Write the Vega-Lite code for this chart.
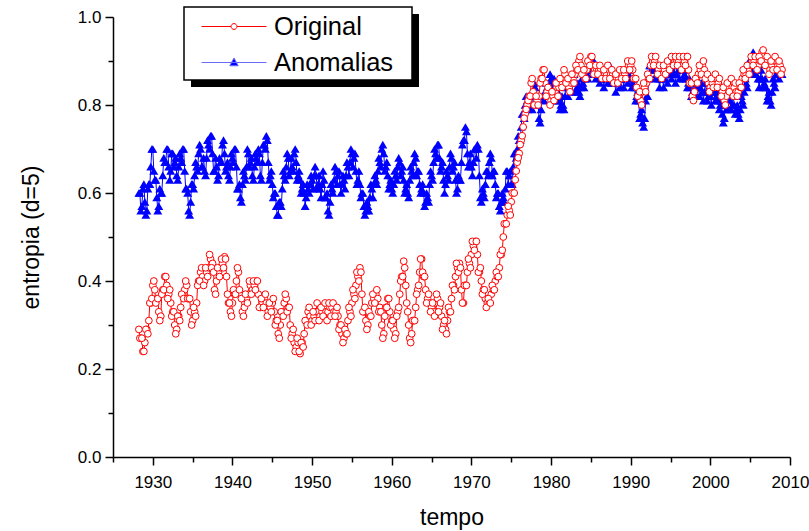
{
  "$schema": "https://vega.github.io/schema/vega-lite/v6.json",
  "width": 677,
  "height": 440,
  "autosize": "none",
  "padding": {"left": 113, "top": 17, "right": 19, "bottom": 74},
  "background": "white",
  "config": {
    "view": {"stroke": null},
    "font": "Liberation Sans",
    "axis": {
      "grid": false,
      "domainColor": "black",
      "domainWidth": 1.5,
      "tickColor": "black",
      "tickWidth": 1.5,
      "labelColor": "black",
      "labelFont": "Liberation Sans",
      "labelFontSize": 17,
      "titleColor": "black",
      "titleFont": "Liberation Sans",
      "titleFontSize": 23,
      "titleFontWeight": "normal",
      "labelFlush": false,
      "labelOverlap": false
    }
  },
  "data": {
    "values": [
      {"t":1928.25,"o":0.29,"a":0.60},{"t":1928.5,"o":0.27,"a":0.56},{"t":1928.75,"o":0.24,"a":0.61},{"t":1929,"o":0.26,"a":0.58},
      {"t":1929.25,"o":0.29,"a":0.56},{"t":1929.5,"o":0.31,"a":0.62},{"t":1929.75,"o":0.35,"a":0.66},{"t":1930,"o":0.39,"a":0.70},
      {"t":1930.25,"o":0.38,"a":0.63},{"t":1930.5,"o":0.36,"a":0.59},{"t":1930.75,"o":0.33,"a":0.57},{"t":1931,"o":0.32,"a":0.60},
      {"t":1931.25,"o":0.38,"a":0.64},{"t":1931.5,"o":0.41,"a":0.67},{"t":1931.75,"o":0.39,"a":0.70},{"t":1932,"o":0.37,"a":0.66},
      {"t":1932.25,"o":0.35,"a":0.65},{"t":1932.5,"o":0.33,"a":0.69},{"t":1932.75,"o":0.30,"a":0.67},{"t":1933,"o":0.29,"a":0.64},
      {"t":1933.25,"o":0.32,"a":0.66},{"t":1933.5,"o":0.34,"a":0.68},{"t":1933.75,"o":0.37,"a":0.70},{"t":1934,"o":0.38,"a":0.65},
      {"t":1934.25,"o":0.39,"a":0.61},{"t":1934.5,"o":0.36,"a":0.56},{"t":1934.75,"o":0.33,"a":0.58},{"t":1935,"o":0.31,"a":0.62},
      {"t":1935.25,"o":0.33,"a":0.64},{"t":1935.5,"o":0.35,"a":0.66},{"t":1935.75,"o":0.40,"a":0.69},{"t":1936,"o":0.42,"a":0.70},
      {"t":1936.25,"o":0.41,"a":0.66},{"t":1936.5,"o":0.40,"a":0.65},{"t":1936.75,"o":0.42,"a":0.68},{"t":1937,"o":0.43,"a":0.71},
      {"t":1937.25,"o":0.45,"a":0.73},{"t":1937.5,"o":0.44,"a":0.69},{"t":1937.75,"o":0.38,"a":0.65},{"t":1938,"o":0.40,"a":0.66},
      {"t":1938.25,"o":0.42,"a":0.64},{"t":1938.5,"o":0.43,"a":0.67},{"t":1938.75,"o":0.44,"a":0.71},{"t":1939,"o":0.455,"a":0.69},
      {"t":1939.25,"o":0.41,"a":0.66},{"t":1939.5,"o":0.35,"a":0.64},{"t":1939.75,"o":0.33,"a":0.66},{"t":1940,"o":0.35,"a":0.68},
      {"t":1940.25,"o":0.37,"a":0.70},{"t":1940.5,"o":0.40,"a":0.66},{"t":1940.75,"o":0.42,"a":0.61},{"t":1941,"o":0.37,"a":0.59},
      {"t":1941.25,"o":0.33,"a":0.62},{"t":1941.5,"o":0.34,"a":0.64},{"t":1941.75,"o":0.36,"a":0.66},{"t":1942,"o":0.37,"a":0.69},
      {"t":1942.25,"o":0.39,"a":0.67},{"t":1942.5,"o":0.38,"a":0.64},{"t":1942.75,"o":0.39,"a":0.66},{"t":1943,"o":0.40,"a":0.68},
      {"t":1943.25,"o":0.37,"a":0.70},{"t":1943.5,"o":0.34,"a":0.64},{"t":1943.75,"o":0.35,"a":0.67},{"t":1944,"o":0.36,"a":0.71},
      {"t":1944.25,"o":0.35,"a":0.73},{"t":1944.5,"o":0.33,"a":0.67},{"t":1944.75,"o":0.34,"a":0.64},{"t":1945,"o":0.35,"a":0.62},
      {"t":1945.25,"o":0.33,"a":0.60},{"t":1945.5,"o":0.31,"a":0.57},{"t":1945.75,"o":0.28,"a":0.55},{"t":1946,"o":0.30,"a":0.58},
      {"t":1946.25,"o":0.33,"a":0.61},{"t":1946.5,"o":0.35,"a":0.64},{"t":1946.75,"o":0.36,"a":0.66},{"t":1947,"o":0.34,"a":0.68},
      {"t":1947.25,"o":0.30,"a":0.65},{"t":1947.5,"o":0.28,"a":0.66},{"t":1947.75,"o":0.26,"a":0.69},{"t":1948,"o":0.25,"a":0.67},
      {"t":1948.25,"o":0.26,"a":0.64},{"t":1948.5,"o":0.235,"a":0.63},{"t":1948.75,"o":0.26,"a":0.61},{"t":1949,"o":0.28,"a":0.60},
      {"t":1949.25,"o":0.31,"a":0.59},{"t":1949.5,"o":0.33,"a":0.61},{"t":1949.75,"o":0.32,"a":0.62},{"t":1950,"o":0.31,"a":0.63},
      {"t":1950.25,"o":0.32,"a":0.64},{"t":1950.5,"o":0.33,"a":0.64},{"t":1950.75,"o":0.33,"a":0.62},{"t":1951,"o":0.32,"a":0.61},
      {"t":1951.25,"o":0.33,"a":0.62},{"t":1951.5,"o":0.34,"a":0.63},{"t":1951.75,"o":0.33,"a":0.59},{"t":1952,"o":0.33,"a":0.56},
      {"t":1952.25,"o":0.34,"a":0.58},{"t":1952.5,"o":0.34,"a":0.61},{"t":1952.75,"o":0.33,"a":0.63},{"t":1953,"o":0.33,"a":0.65},
      {"t":1953.25,"o":0.32,"a":0.64},{"t":1953.5,"o":0.30,"a":0.62},{"t":1953.75,"o":0.28,"a":0.62},{"t":1954,"o":0.27,"a":0.63},
      {"t":1954.25,"o":0.28,"a":0.64},{"t":1954.5,"o":0.31,"a":0.66},{"t":1954.75,"o":0.33,"a":0.67},{"t":1955,"o":0.35,"a":0.69},
      {"t":1955.25,"o":0.37,"a":0.68},{"t":1955.5,"o":0.39,"a":0.65},{"t":1955.75,"o":0.41,"a":0.63},{"t":1956,"o":0.43,"a":0.62},
      {"t":1956.25,"o":0.37,"a":0.60},{"t":1956.5,"o":0.33,"a":0.57},{"t":1956.75,"o":0.31,"a":0.56},{"t":1957,"o":0.30,"a":0.57},
      {"t":1957.25,"o":0.32,"a":0.59},{"t":1957.5,"o":0.35,"a":0.61},{"t":1957.75,"o":0.36,"a":0.62},{"t":1958,"o":0.37,"a":0.63},
      {"t":1958.25,"o":0.36,"a":0.65},{"t":1958.5,"o":0.34,"a":0.67},{"t":1958.75,"o":0.30,"a":0.70},{"t":1959,"o":0.28,"a":0.69},
      {"t":1959.25,"o":0.34,"a":0.66},{"t":1959.5,"o":0.36,"a":0.64},{"t":1959.75,"o":0.33,"a":0.62},{"t":1960,"o":0.31,"a":0.61},
      {"t":1960.25,"o":0.29,"a":0.62},{"t":1960.5,"o":0.28,"a":0.64},{"t":1960.75,"o":0.33,"a":0.66},{"t":1961,"o":0.37,"a":0.67},
      {"t":1961.25,"o":0.41,"a":0.65},{"t":1961.5,"o":0.445,"a":0.63},{"t":1961.75,"o":0.39,"a":0.61},{"t":1962,"o":0.33,"a":0.60},
      {"t":1962.25,"o":0.27,"a":0.63},{"t":1962.5,"o":0.28,"a":0.65},{"t":1962.75,"o":0.31,"a":0.67},{"t":1963,"o":0.34,"a":0.68},
      {"t":1963.25,"o":0.38,"a":0.65},{"t":1963.5,"o":0.42,"a":0.62},{"t":1963.75,"o":0.45,"a":0.61},{"t":1964,"o":0.41,"a":0.60},
      {"t":1964.25,"o":0.38,"a":0.58},{"t":1964.5,"o":0.36,"a":0.59},{"t":1964.75,"o":0.35,"a":0.62},{"t":1965,"o":0.34,"a":0.64},
      {"t":1965.25,"o":0.33,"a":0.67},{"t":1965.5,"o":0.35,"a":0.69},{"t":1965.75,"o":0.36,"a":0.71},{"t":1966,"o":0.34,"a":0.68},
      {"t":1966.25,"o":0.32,"a":0.66},{"t":1966.5,"o":0.30,"a":0.63},{"t":1966.75,"o":0.29,"a":0.62},{"t":1967,"o":0.31,"a":0.64},
      {"t":1967.25,"o":0.33,"a":0.66},{"t":1967.5,"o":0.36,"a":0.68},{"t":1967.75,"o":0.39,"a":0.66},{"t":1968,"o":0.41,"a":0.63},
      {"t":1968.25,"o":0.43,"a":0.61},{"t":1968.5,"o":0.44,"a":0.63},{"t":1968.75,"o":0.38,"a":0.67},{"t":1969,"o":0.35,"a":0.72},
      {"t":1969.25,"o":0.39,"a":0.75},{"t":1969.5,"o":0.42,"a":0.69},{"t":1969.75,"o":0.44,"a":0.67},{"t":1970,"o":0.46,"a":0.66},
      {"t":1970.25,"o":0.48,"a":0.67},{"t":1970.5,"o":0.49,"a":0.70},{"t":1970.75,"o":0.46,"a":0.71},{"t":1971,"o":0.42,"a":0.64},
      {"t":1971.25,"o":0.40,"a":0.58},{"t":1971.5,"o":0.38,"a":0.60},{"t":1971.75,"o":0.36,"a":0.62},{"t":1972,"o":0.35,"a":0.65},
      {"t":1972.25,"o":0.35,"a":0.67},{"t":1972.5,"o":0.37,"a":0.68},{"t":1972.75,"o":0.38,"a":0.65},{"t":1973,"o":0.40,"a":0.62},
      {"t":1973.25,"o":0.41,"a":0.60},{"t":1973.5,"o":0.43,"a":0.57},{"t":1973.75,"o":0.46,"a":0.58},{"t":1974,"o":0.50,"a":0.59},
      {"t":1974.25,"o":0.53,"a":0.61},{"t":1974.5,"o":0.55,"a":0.65},{"t":1974.75,"o":0.56,"a":0.64},{"t":1975,"o":0.58,"a":0.62},
      {"t":1975.25,"o":0.60,"a":0.66},{"t":1975.5,"o":0.63,"a":0.69},{"t":1975.75,"o":0.67,"a":0.70},{"t":1976,"o":0.69,"a":0.72},
      {"t":1976.25,"o":0.72,"a":0.75},{"t":1976.5,"o":0.75,"a":0.78},{"t":1976.75,"o":0.78,"a":0.80},{"t":1977,"o":0.80,"a":0.81},
      {"t":1977.25,"o":0.82,"a":0.80},{"t":1977.5,"o":0.85,"a":0.80},{"t":1977.75,"o":0.83,"a":0.82},{"t":1978,"o":0.80,"a":0.84},
      {"t":1978.25,"o":0.81,"a":0.80},{"t":1978.5,"o":0.82,"a":0.77},{"t":1978.75,"o":0.86,"a":0.79},{"t":1979,"o":0.88,"a":0.82},
      {"t":1979.25,"o":0.85,"a":0.83},{"t":1979.5,"o":0.83,"a":0.84},{"t":1979.75,"o":0.82,"a":0.85},{"t":1980,"o":0.81,"a":0.86},
      {"t":1980.25,"o":0.82,"a":0.85},{"t":1980.5,"o":0.83,"a":0.83},{"t":1980.75,"o":0.84,"a":0.82},{"t":1981,"o":0.84,"a":0.81},
      {"t":1981.25,"o":0.85,"a":0.80},{"t":1981.5,"o":0.86,"a":0.80},{"t":1981.75,"o":0.87,"a":0.82},{"t":1982,"o":0.85,"a":0.84},
      {"t":1982.25,"o":0.84,"a":0.84},{"t":1982.5,"o":0.85,"a":0.85},{"t":1982.75,"o":0.86,"a":0.85},{"t":1983,"o":0.87,"a":0.85},
      {"t":1983.25,"o":0.88,"a":0.84},{"t":1983.5,"o":0.90,"a":0.83},{"t":1983.75,"o":0.89,"a":0.84},{"t":1984,"o":0.87,"a":0.85},
      {"t":1984.25,"o":0.86,"a":0.86},{"t":1984.5,"o":0.88,"a":0.87},{"t":1984.75,"o":0.90,"a":0.88},{"t":1985,"o":0.91,"a":0.88},
      {"t":1985.25,"o":0.89,"a":0.89},{"t":1985.5,"o":0.88,"a":0.88},{"t":1985.75,"o":0.88,"a":0.87},{"t":1986,"o":0.88,"a":0.87},
      {"t":1986.25,"o":0.88,"a":0.86},{"t":1986.5,"o":0.87,"a":0.86},{"t":1986.75,"o":0.87,"a":0.86},{"t":1987,"o":0.87,"a":0.87},
      {"t":1987.25,"o":0.88,"a":0.87},{"t":1987.5,"o":0.87,"a":0.87},{"t":1987.75,"o":0.87,"a":0.86},{"t":1988,"o":0.86,"a":0.85},
      {"t":1988.25,"o":0.86,"a":0.85},{"t":1988.5,"o":0.86,"a":0.85},{"t":1988.75,"o":0.87,"a":0.86},{"t":1989,"o":0.87,"a":0.86},
      {"t":1989.25,"o":0.87,"a":0.86},{"t":1989.5,"o":0.88,"a":0.87},{"t":1989.75,"o":0.89,"a":0.87},{"t":1990,"o":0.89,"a":0.86},
      {"t":1990.25,"o":0.88,"a":0.85},{"t":1990.5,"o":0.86,"a":0.84},{"t":1990.75,"o":0.84,"a":0.82},{"t":1991,"o":0.82,"a":0.81},
      {"t":1991.25,"o":0.81,"a":0.78},{"t":1991.5,"o":0.83,"a":0.76},{"t":1991.75,"o":0.84,"a":0.77},{"t":1992,"o":0.85,"a":0.82},
      {"t":1992.25,"o":0.86,"a":0.86},{"t":1992.5,"o":0.89,"a":0.89},{"t":1992.75,"o":0.90,"a":0.90},{"t":1993,"o":0.90,"a":0.88},
      {"t":1993.25,"o":0.89,"a":0.87},{"t":1993.5,"o":0.88,"a":0.86},{"t":1993.75,"o":0.87,"a":0.86},{"t":1994,"o":0.87,"a":0.86},
      {"t":1994.25,"o":0.88,"a":0.86},{"t":1994.5,"o":0.89,"a":0.87},{"t":1994.75,"o":0.89,"a":0.87},{"t":1995,"o":0.90,"a":0.87},
      {"t":1995.25,"o":0.90,"a":0.88},{"t":1995.5,"o":0.90,"a":0.87},{"t":1995.75,"o":0.90,"a":0.87},{"t":1996,"o":0.90,"a":0.88},
      {"t":1996.25,"o":0.89,"a":0.88},{"t":1996.5,"o":0.89,"a":0.88},{"t":1996.75,"o":0.90,"a":0.87},{"t":1997,"o":0.91,"a":0.86},
      {"t":1997.25,"o":0.88,"a":0.85},{"t":1997.5,"o":0.85,"a":0.84},{"t":1997.75,"o":0.82,"a":0.83},{"t":1998,"o":0.83,"a":0.83},
      {"t":1998.25,"o":0.86,"a":0.84},{"t":1998.5,"o":0.87,"a":0.84},{"t":1998.75,"o":0.88,"a":0.84},{"t":1999,"o":0.89,"a":0.83},
      {"t":1999.25,"o":0.88,"a":0.83},{"t":1999.5,"o":0.86,"a":0.83},{"t":1999.75,"o":0.85,"a":0.82},{"t":2000,"o":0.84,"a":0.82},
      {"t":2000.25,"o":0.85,"a":0.83},{"t":2000.5,"o":0.86,"a":0.83},{"t":2000.75,"o":0.86,"a":0.82},{"t":2001,"o":0.85,"a":0.81},
      {"t":2001.25,"o":0.84,"a":0.80},{"t":2001.5,"o":0.83,"a":0.78},{"t":2001.75,"o":0.81,"a":0.77},{"t":2002,"o":0.82,"a":0.79},
      {"t":2002.25,"o":0.84,"a":0.82},{"t":2002.5,"o":0.85,"a":0.81},{"t":2002.75,"o":0.84,"a":0.80},{"t":2003,"o":0.84,"a":0.80},
      {"t":2003.25,"o":0.83,"a":0.79},{"t":2003.5,"o":0.83,"a":0.78},{"t":2003.75,"o":0.84,"a":0.79},{"t":2004,"o":0.86,"a":0.81},
      {"t":2004.25,"o":0.87,"a":0.83},{"t":2004.5,"o":0.87,"a":0.85},{"t":2004.75,"o":0.88,"a":0.87},{"t":2005,"o":0.89,"a":0.89},
      {"t":2005.25,"o":0.90,"a":0.91},{"t":2005.5,"o":0.90,"a":0.90},{"t":2005.75,"o":0.89,"a":0.87},{"t":2006,"o":0.89,"a":0.86},
      {"t":2006.25,"o":0.90,"a":0.86},{"t":2006.5,"o":0.92,"a":0.86},{"t":2006.75,"o":0.91,"a":0.85},{"t":2007,"o":0.90,"a":0.84},
      {"t":2007.25,"o":0.89,"a":0.82},{"t":2007.5,"o":0.88,"a":0.81},{"t":2007.75,"o":0.89,"a":0.83},{"t":2008,"o":0.90,"a":0.85},
      {"t":2008.25,"o":0.90,"a":0.87},{"t":2008.5,"o":0.89,"a":0.88},{"t":2008.75,"o":0.89,"a":0.87},{"t":2009,"o":0.88,"a":0.87},

      {"t":1928.375,"o":0.27,"a":0.60},{"t":1928.625,"o":0.27,"a":0.57},{"t":1928.875,"o":0.24,"a":0.62},{"t":1929.125,"o":0.29,"a":0.55},
      {"t":1929.375,"o":0.28,"a":0.61},{"t":1929.625,"o":0.35,"a":0.62},{"t":1929.875,"o":0.36,"a":0.70},{"t":1930.125,"o":0.40,"a":0.65},
      {"t":1930.375,"o":0.35,"a":0.63},{"t":1930.625,"o":0.36,"a":0.56},{"t":1930.875,"o":0.31,"a":0.61},{"t":1931.125,"o":0.37,"a":0.60},
      {"t":1931.375,"o":0.38,"a":0.68},{"t":1931.625,"o":0.41,"a":0.67},{"t":1931.875,"o":0.36,"a":0.70},{"t":1932.125,"o":0.38,"a":0.63},
      {"t":1932.375,"o":0.32,"a":0.69},{"t":1932.625,"o":0.33,"a":0.66},{"t":1932.875,"o":0.28,"a":0.68},{"t":1933.125,"o":0.32,"a":0.63},
      {"t":1933.375,"o":0.31,"a":0.69},{"t":1933.625,"o":0.37,"a":0.67},{"t":1933.875,"o":0.36,"a":0.70},{"t":1934.125,"o":0.40,"a":0.61},
      {"t":1934.375,"o":0.36,"a":0.60},{"t":1934.625,"o":0.36,"a":0.55},{"t":1934.875,"o":0.30,"a":0.62},{"t":1935.125,"o":0.34,"a":0.61},
      {"t":1935.375,"o":0.32,"a":0.67},{"t":1935.625,"o":0.39,"a":0.65},{"t":1935.875,"o":0.40,"a":0.71},{"t":1936.125,"o":0.43,"a":0.66},
      {"t":1936.375,"o":0.39,"a":0.68},{"t":1936.625,"o":0.43,"a":0.64},{"t":1936.875,"o":0.41,"a":0.72},{"t":1937.125,"o":0.46,"a":0.70},
      {"t":1937.375,"o":0.43,"a":0.73},{"t":1937.625,"o":0.42,"a":0.65},{"t":1937.875,"o":0.37,"a":0.68},{"t":1938.125,"o":0.43,"a":0.63},
      {"t":1938.375,"o":0.41,"a":0.68},{"t":1938.625,"o":0.45,"a":0.67},{"t":1938.875,"o":0.43,"a":0.72},{"t":1939.125,"o":0.45,"a":0.65},
      {"t":1939.375,"o":0.37,"a":0.67},{"t":1939.625,"o":0.35,"a":0.63},{"t":1939.875,"o":0.32,"a":0.69},{"t":1940.125,"o":0.38,"a":0.67},
      {"t":1940.375,"o":0.37,"a":0.70},{"t":1940.625,"o":0.43,"a":0.61},{"t":1940.875,"o":0.38,"a":0.62},{"t":1941.125,"o":0.36,"a":0.58},
      {"t":1941.375,"o":0.32,"a":0.65},{"t":1941.625,"o":0.37,"a":0.63},{"t":1941.875,"o":0.35,"a":0.70},{"t":1942.125,"o":0.40,"a":0.66},
      {"t":1942.375,"o":0.37,"a":0.68},{"t":1942.625,"o":0.40,"a":0.63},{"t":1942.875,"o":0.38,"a":0.69},{"t":1943.125,"o":0.40,"a":0.67},
      {"t":1943.375,"o":0.34,"a":0.69},{"t":1943.625,"o":0.36,"a":0.63},{"t":1943.875,"o":0.34,"a":0.71},{"t":1944.125,"o":0.37,"a":0.70},
      {"t":1944.375,"o":0.32,"a":0.72},{"t":1944.625,"o":0.35,"a":0.63},{"t":1944.875,"o":0.33,"a":0.65},{"t":1945.125,"o":0.36,"a":0.59},
      {"t":1945.375,"o":0.30,"a":0.60},{"t":1945.625,"o":0.31,"a":0.55},{"t":1945.875,"o":0.27,"a":0.58},{"t":1946.125,"o":0.33,"a":0.57},
      {"t":1946.375,"o":0.32,"a":0.65},{"t":1946.625,"o":0.37,"a":0.63},{"t":1946.875,"o":0.33,"a":0.69},{"t":1947.125,"o":0.34,"a":0.64},
      {"t":1947.375,"o":0.27,"a":0.68},{"t":1947.625,"o":0.29,"a":0.65},{"t":1947.875,"o":0.24,"a":0.70},{"t":1948.125,"o":0.27,"a":0.63},
      {"t":1948.375,"o":0.24,"a":0.65},{"t":1948.625,"o":0.26,"a":0.60},{"t":1948.875,"o":0.25,"a":0.62},{"t":1949.125,"o":0.31,"a":0.57},
      {"t":1949.375,"o":0.30,"a":0.62},{"t":1949.625,"o":0.34,"a":0.60},{"t":1949.875,"o":0.30,"a":0.64},{"t":1950.125,"o":0.33,"a":0.61},
      {"t":1950.375,"o":0.31,"a":0.66},{"t":1950.625,"o":0.35,"a":0.61},{"t":1950.875,"o":0.31,"a":0.64},{"t":1951.125,"o":0.34,"a":0.59},
      {"t":1951.375,"o":0.32,"a":0.65},{"t":1951.625,"o":0.35,"a":0.59},{"t":1951.875,"o":0.31,"a":0.60},{"t":1952.125,"o":0.35,"a":0.55},
      {"t":1952.375,"o":0.32,"a":0.62},{"t":1952.625,"o":0.35,"a":0.60},{"t":1952.875,"o":0.32,"a":0.66},{"t":1953.125,"o":0.34,"a":0.62},
      {"t":1953.375,"o":0.29,"a":0.65},{"t":1953.625,"o":0.30,"a":0.60},{"t":1953.875,"o":0.26,"a":0.64},{"t":1954.125,"o":0.29,"a":0.61},
      {"t":1954.375,"o":0.28,"a":0.67},{"t":1954.625,"o":0.34,"a":0.64},{"t":1954.875,"o":0.32,"a":0.70},{"t":1955.125,"o":0.38,"a":0.66},
      {"t":1955.375,"o":0.36,"a":0.69},{"t":1955.625,"o":0.42,"a":0.62},{"t":1955.875,"o":0.40,"a":0.65},{"t":1956.125,"o":0.42,"a":0.59},
      {"t":1956.375,"o":0.33,"a":0.60},{"t":1956.625,"o":0.34,"a":0.55},{"t":1956.875,"o":0.29,"a":0.58},{"t":1957.125,"o":0.33,"a":0.56},
      {"t":1957.375,"o":0.32,"a":0.62},{"t":1957.625,"o":0.37,"a":0.59},{"t":1957.875,"o":0.35,"a":0.64},{"t":1958.125,"o":0.38,"a":0.62},
      {"t":1958.375,"o":0.33,"a":0.68},{"t":1958.625,"o":0.33,"a":0.66},{"t":1958.875,"o":0.27,"a":0.71},{"t":1959.125,"o":0.32,"a":0.65},
      {"t":1959.375,"o":0.34,"a":0.67},{"t":1959.625,"o":0.36,"a":0.61},{"t":1959.875,"o":0.30,"a":0.63},{"t":1960.125,"o":0.31,"a":0.60},
      {"t":1960.375,"o":0.27,"a":0.65},{"t":1960.625,"o":0.32,"a":0.63},{"t":1960.875,"o":0.34,"a":0.68},{"t":1961.125,"o":0.40,"a":0.64},
      {"t":1961.375,"o":0.41,"a":0.66},{"t":1961.625,"o":0.43,"a":0.60},{"t":1961.875,"o":0.35,"a":0.62},{"t":1962.125,"o":0.30,"a":0.59},
      {"t":1962.375,"o":0.26,"a":0.66},{"t":1962.625,"o":0.31,"a":0.64},{"t":1962.875,"o":0.31,"a":0.69},{"t":1963.125,"o":0.37,"a":0.64},
      {"t":1963.375,"o":0.39,"a":0.65},{"t":1963.625,"o":0.45,"a":0.60},{"t":1963.875,"o":0.42,"a":0.62},{"t":1964.125,"o":0.41,"a":0.57},
      {"t":1964.375,"o":0.35,"a":0.60},{"t":1964.625,"o":0.37,"a":0.58},{"t":1964.875,"o":0.33,"a":0.65},{"t":1965.125,"o":0.35,"a":0.63},
      {"t":1965.375,"o":0.32,"a":0.70},{"t":1965.625,"o":0.37,"a":0.68},{"t":1965.875,"o":0.33,"a":0.71},{"t":1966.125,"o":0.35,"a":0.65},
      {"t":1966.375,"o":0.29,"a":0.67},{"t":1966.625,"o":0.31,"a":0.60},{"t":1966.875,"o":0.28,"a":0.65},{"t":1967.125,"o":0.34,"a":0.63},
      {"t":1967.375,"o":0.33,"a":0.69},{"t":1967.625,"o":0.39,"a":0.65},{"t":1967.875,"o":0.38,"a":0.67},{"t":1968.125,"o":0.44,"a":0.60},
      {"t":1968.375,"o":0.42,"a":0.64},{"t":1968.625,"o":0.43,"a":0.63},{"t":1968.875,"o":0.35,"a":0.71},{"t":1969.125,"o":0.39,"a":0.72},
      {"t":1969.375,"o":0.39,"a":0.74},{"t":1969.625,"o":0.45,"a":0.66},{"t":1969.875,"o":0.43,"a":0.69},{"t":1970.125,"o":0.49,"a":0.64},
      {"t":1970.375,"o":0.47,"a":0.70},{"t":1970.625,"o":0.49,"a":0.68},{"t":1970.875,"o":0.42,"a":0.70},{"t":1971.125,"o":0.43,"a":0.59},
      {"t":1971.375,"o":0.37,"a":0.61},{"t":1971.625,"o":0.38,"a":0.59},{"t":1971.875,"o":0.34,"a":0.65},{"t":1972.125,"o":0.36,"a":0.64},
      {"t":1972.375,"o":0.35,"a":0.69},{"t":1972.625,"o":0.39,"a":0.64},{"t":1972.875,"o":0.38,"a":0.65},{"t":1973.125,"o":0.42,"a":0.59},
      {"t":1973.375,"o":0.41,"a":0.60},{"t":1973.625,"o":0.46,"a":0.56},{"t":1973.875,"o":0.47,"a":0.60},{"t":1974.125,"o":0.53,"a":0.58},
      {"t":1974.375,"o":0.53,"a":0.65},{"t":1974.625,"o":0.57,"a":0.62},{"t":1974.875,"o":0.55,"a":0.65},{"t":1975.125,"o":0.60,"a":0.62},
      {"t":1975.375,"o":0.60,"a":0.69},{"t":1975.625,"o":0.65,"a":0.68},{"t":1975.875,"o":0.68,"a":0.73},{"t":1976.125,"o":0.71,"a":0.72},
      {"t":1976.375,"o":0.73,"a":0.78},{"t":1976.625,"o":0.77,"a":0.77},{"t":1976.875,"o":0.79,"a":0.82},{"t":1977.125,"o":0.81,"a":0.79},
      {"t":1977.375,"o":0.82,"a":0.82},{"t":1977.625,"o":0.86,"a":0.79},{"t":1977.875,"o":0.80,"a":0.85},{"t":1978.125,"o":0.82,"a":0.80},
      {"t":1978.375,"o":0.80,"a":0.80},{"t":1978.625,"o":0.85,"a":0.76},{"t":1978.875,"o":0.86,"a":0.82},{"t":1979.125,"o":0.88,"a":0.81},
      {"t":1979.375,"o":0.82,"a":0.85},{"t":1979.625,"o":0.84,"a":0.82},{"t":1979.875,"o":0.80,"a":0.87},{"t":1980.125,"o":0.83,"a":0.83},
      {"t":1980.375,"o":0.81,"a":0.86},{"t":1980.625,"o":0.85,"a":0.81},{"t":1980.875,"o":0.82,"a":0.83},{"t":1981.125,"o":0.86,"a":0.79},
      {"t":1981.375,"o":0.84,"a":0.82},{"t":1981.625,"o":0.88,"a":0.79},{"t":1981.875,"o":0.85,"a":0.85},{"t":1982.125,"o":0.86,"a":0.82},
      {"t":1982.375,"o":0.83,"a":0.86},{"t":1982.625,"o":0.87,"a":0.83},{"t":1982.875,"o":0.85,"a":0.87},{"t":1983.125,"o":0.89,"a":0.83},
      {"t":1983.375,"o":0.88,"a":0.85},{"t":1983.625,"o":0.91,"a":0.82},{"t":1983.875,"o":0.87,"a":0.86},{"t":1984.125,"o":0.88,"a":0.84},
      {"t":1984.375,"o":0.86,"a":0.88},{"t":1984.625,"o":0.90,"a":0.86},{"t":1984.875,"o":0.89,"a":0.90},{"t":1985.125,"o":0.91,"a":0.87},
      {"t":1985.375,"o":0.87,"a":0.90},{"t":1985.625,"o":0.89,"a":0.86},{"t":1985.875,"o":0.87,"a":0.89},{"t":1986.125,"o":0.89,"a":0.85},
      {"t":1986.375,"o":0.86,"a":0.88},{"t":1986.625,"o":0.88,"a":0.84},{"t":1986.875,"o":0.86,"a":0.88},{"t":1987.125,"o":0.89,"a":0.85},
      {"t":1987.375,"o":0.86,"a":0.89},{"t":1987.625,"o":0.88,"a":0.85},{"t":1987.875,"o":0.85,"a":0.87},{"t":1988.125,"o":0.87,"a":0.83},
      {"t":1988.375,"o":0.85,"a":0.87},{"t":1988.625,"o":0.88,"a":0.84},{"t":1988.875,"o":0.86,"a":0.88},{"t":1989.125,"o":0.88,"a":0.84},
      {"t":1989.375,"o":0.86,"a":0.88},{"t":1989.625,"o":0.90,"a":0.85},{"t":1989.875,"o":0.88,"a":0.88},{"t":1990.125,"o":0.90,"a":0.84},
      {"t":1990.375,"o":0.86,"a":0.86},{"t":1990.625,"o":0.86,"a":0.81},{"t":1990.875,"o":0.82,"a":0.83},{"t":1991.125,"o":0.83,"a":0.77},
      {"t":1991.375,"o":0.80,"a":0.79},{"t":1991.625,"o":0.85,"a":0.75},{"t":1991.875,"o":0.83,"a":0.81},{"t":1992.125,"o":0.87,"a":0.82},
      {"t":1992.375,"o":0.86,"a":0.89},{"t":1992.625,"o":0.91,"a":0.88},{"t":1992.875,"o":0.89,"a":0.91},{"t":1993.125,"o":0.91,"a":0.86},
      {"t":1993.375,"o":0.87,"a":0.88},{"t":1993.625,"o":0.89,"a":0.84},{"t":1993.875,"o":0.86,"a":0.88},{"t":1994.125,"o":0.89,"a":0.84},
      {"t":1994.375,"o":0.87,"a":0.88},{"t":1994.625,"o":0.90,"a":0.85},{"t":1994.875,"o":0.88,"a":0.89},{"t":1995.125,"o":0.91,"a":0.86},
      {"t":1995.375,"o":0.89,"a":0.89},{"t":1995.625,"o":0.91,"a":0.85},{"t":1995.875,"o":0.89,"a":0.89},{"t":1996.125,"o":0.91,"a":0.86},
      {"t":1996.375,"o":0.88,"a":0.90},{"t":1996.625,"o":0.91,"a":0.86},{"t":1996.875,"o":0.89,"a":0.88},{"t":1997.125,"o":0.91,"a":0.84},
      {"t":1997.375,"o":0.85,"a":0.86},{"t":1997.625,"o":0.85,"a":0.82},{"t":1997.875,"o":0.81,"a":0.85},{"t":1998.125,"o":0.86,"a":0.82},
      {"t":1998.375,"o":0.85,"a":0.86},{"t":1998.625,"o":0.89,"a":0.82},{"t":1998.875,"o":0.87,"a":0.85},{"t":1999.125,"o":0.90,"a":0.81},
      {"t":1999.375,"o":0.86,"a":0.85},{"t":1999.625,"o":0.87,"a":0.81},{"t":1999.875,"o":0.83,"a":0.84},{"t":2000.125,"o":0.86,"a":0.80},
      {"t":2000.375,"o":0.84,"a":0.85},{"t":2000.625,"o":0.87,"a":0.81},{"t":2000.875,"o":0.84,"a":0.83},{"t":2001.125,"o":0.86,"a":0.79},
      {"t":2001.375,"o":0.82,"a":0.81},{"t":2001.625,"o":0.84,"a":0.76},{"t":2001.875,"o":0.80,"a":0.80},{"t":2002.125,"o":0.85,"a":0.79},
      {"t":2002.375,"o":0.83,"a":0.83},{"t":2002.625,"o":0.86,"a":0.79},{"t":2002.875,"o":0.82,"a":0.82},{"t":2003.125,"o":0.85,"a":0.78},
      {"t":2003.375,"o":0.82,"a":0.80},{"t":2003.625,"o":0.85,"a":0.77},{"t":2003.875,"o":0.84,"a":0.82},{"t":2004.125,"o":0.88,"a":0.80},
      {"t":2004.375,"o":0.86,"a":0.86},{"t":2004.625,"o":0.89,"a":0.84},{"t":2004.875,"o":0.87,"a":0.90},{"t":2005.125,"o":0.91,"a":0.88},
      {"t":2005.375,"o":0.89,"a":0.92},{"t":2005.625,"o":0.91,"a":0.87},{"t":2005.875,"o":0.88,"a":0.88},{"t":2006.125,"o":0.91,"a":0.84},
      {"t":2006.375,"o":0.90,"a":0.88},{"t":2006.625,"o":0.925,"a":0.84},{"t":2006.875,"o":0.89,"a":0.86},{"t":2007.125,"o":0.91,"a":0.81},
      {"t":2007.375,"o":0.87,"a":0.83},{"t":2007.625,"o":0.90,"a":0.80},{"t":2007.875,"o":0.88,"a":0.86},{"t":2008.125,"o":0.91,"a":0.84},
      {"t":2008.375,"o":0.88,"a":0.89},{"t":2008.625,"o":0.90,"a":0.86},{"t":2008.875,"o":0.87,"a":0.89}
    ]
  },
  "encoding": {
    "x": {
      "field": "t",
      "type": "quantitative",
      "scale": {"domain": [1925, 2010], "nice": false, "zero": false},
      "axis": {
        "title": "tempo",
        "values": [1925, 1930, 1935, 1940, 1945, 1950, 1955, 1960, 1965, 1970, 1975, 1980, 1985, 1990, 1995, 2000, 2005, 2010],
        "format": "d",
        "labelExpr": "datum.value % 10 == 0 ? datum.label : ''",
        "tickSize": {"condition": {"test": "datum.value % 10 == 0", "value": 8}, "value": 5},
        "labelPadding": 9,
        "titlePadding": 16
      }
    }
  },
  "layer": [
    {
      "mark": {"type": "line", "color": "#0000ff", "strokeWidth": 1},
      "encoding": {
        "y": {
          "field": "a",
          "type": "quantitative",
          "scale": {"domain": [0, 1], "nice": false},
          "axis": {
            "title": "entropia (d=5)",
            "values": [0, 0.1, 0.2, 0.3, 0.4, 0.5, 0.6, 0.7, 0.8, 0.9, 1],
            "labelExpr": "round(datum.value * 10) % 2 == 0 ? format(datum.value, '.1f') : ''",
            "tickSize": {"condition": {"test": "round(datum.value * 10) % 2 == 0", "value": 8}, "value": 5},
            "labelPadding": 4,
            "titlePadding": 34
          }
        }
      }
    },
    {
      "mark": {"type": "point", "shape": "triangle-up", "filled": true, "color": "#0000ff", "size": 80, "opacity": 1},
      "encoding": {
        "y": {
          "field": "a",
          "type": "quantitative",
          "scale": {"domain": [0, 1], "nice": false},
          "axis": {
            "title": "entropia (d=5)",
            "values": [0, 0.1, 0.2, 0.3, 0.4, 0.5, 0.6, 0.7, 0.8, 0.9, 1],
            "labelExpr": "round(datum.value * 10) % 2 == 0 ? format(datum.value, '.1f') : ''",
            "tickSize": {"condition": {"test": "round(datum.value * 10) % 2 == 0", "value": 8}, "value": 5},
            "labelPadding": 4,
            "titlePadding": 34
          }
        }
      }
    },
    {
      "mark": {"type": "line", "color": "#ff0000", "strokeWidth": 1},
      "encoding": {
        "y": {
          "field": "o",
          "type": "quantitative",
          "scale": {"domain": [0, 1], "nice": false},
          "axis": {
            "title": "entropia (d=5)",
            "values": [0, 0.1, 0.2, 0.3, 0.4, 0.5, 0.6, 0.7, 0.8, 0.9, 1],
            "labelExpr": "round(datum.value * 10) % 2 == 0 ? format(datum.value, '.1f') : ''",
            "tickSize": {"condition": {"test": "round(datum.value * 10) % 2 == 0", "value": 8}, "value": 5},
            "labelPadding": 4,
            "titlePadding": 34
          }
        }
      }
    },
    {
      "mark": {"type": "point", "shape": "circle", "filled": false, "stroke": "#ff0000", "fill": "white", "size": 46, "strokeWidth": 1, "opacity": 1},
      "encoding": {
        "y": {
          "field": "o",
          "type": "quantitative",
          "scale": {"domain": [0, 1], "nice": false},
          "axis": {
            "title": "entropia (d=5)",
            "values": [0, 0.1, 0.2, 0.3, 0.4, 0.5, 0.6, 0.7, 0.8, 0.9, 1],
            "labelExpr": "round(datum.value * 10) % 2 == 0 ? format(datum.value, '.1f') : ''",
            "tickSize": {"condition": {"test": "round(datum.value * 10) % 2 == 0", "value": 8}, "value": 5},
            "labelPadding": 4,
            "titlePadding": 34
          }
        }
      }
    },
    {
      "transform": [{"filter": "datum.t < 0"}],
      "mark": {"type": "point", "shape": "M-1,-0.32H1V0.32H-1Z", "filled": true, "color": "black", "opacity": 1},
      "encoding": {
        "strokeDash": {
          "field": "k",
          "type": "nominal",
          "scale": {"domain": ["sombra"]},
          "legend": {
            "orient": "none",
            "legendX": 77,
            "legendY": -81.5,
            "title": null,
            "padding": 0,
            "symbolSize": 51984,
            "symbolStrokeWidth": 1.5,
            "symbolOffset": 0,
            "labelExpr": "''",
            "zindex": 0
          }
        }
      }
    },
    {
      "transform": [{"filter": "datum.t < 0"}],
      "mark": {"type": "point", "shape": "M-1,-0.32H1V0.32H-1Z", "filled": true, "stroke": "black", "strokeWidth": 1.5, "opacity": 1},
      "encoding": {
        "color": {
          "field": "c",
          "type": "nominal",
          "scale": {"domain": ["caixa"], "range": ["white"]},
          "legend": {
            "orient": "none",
            "legendX": 70,
            "legendY": -88.5,
            "title": null,
            "padding": 0,
            "symbolSize": 51984,
            "symbolStrokeWidth": 1.5,
            "symbolStrokeColor": "black",
            "symbolOffset": 0,
            "labelExpr": "''",
            "zindex": 1
          }
        }
      }
    },
    {
      "transform": [{"filter": "datum.t < 0"}],
      "mark": {"type": "point", "opacity": 1, "strokeWidth": 1},
      "encoding": {
        "shape": {
          "field": "serie",
          "type": "nominal",
          "scale": {
            "domain": ["Original", "Anomalias"],
            "range": [
              "M-1,0H-0.09M0.09,0H1M0.09,0A0.09,0.09,0,1,1,-0.09,0A0.09,0.09,0,1,1,0.09,0",
              "M-1,0H1M0,-0.14L0.13,0.1L-0.13,0.1Z"
            ]
          },
          "legend": {
            "orient": "none",
            "legendX": 71,
            "legendY": -10,
            "title": null,
            "padding": 7,
            "symbolSize": 4225,
            "symbolStrokeWidth": 1,
            "clipHeight": 25,
            "rowPadding": 10,
            "symbolOffset": 10,
            "labelOffset": 7,
            "labelFont": "Liberation Sans",
            "labelFontSize": 25.5,
            "labelColor": "black",
            "labelLimit": 0,
            "zindex": 2
          }
        },
        "stroke": {
          "field": "serie",
          "type": "nominal",
          "scale": {"domain": ["Original", "Anomalias"], "range": ["#ff0000", "#6a6aff"]}
        },
        "fill": {
          "field": "serie",
          "type": "nominal",
          "scale": {"domain": ["Original", "Anomalias"], "range": ["white", "#0000ff"]}
        }
      }
    }
  ]
}
